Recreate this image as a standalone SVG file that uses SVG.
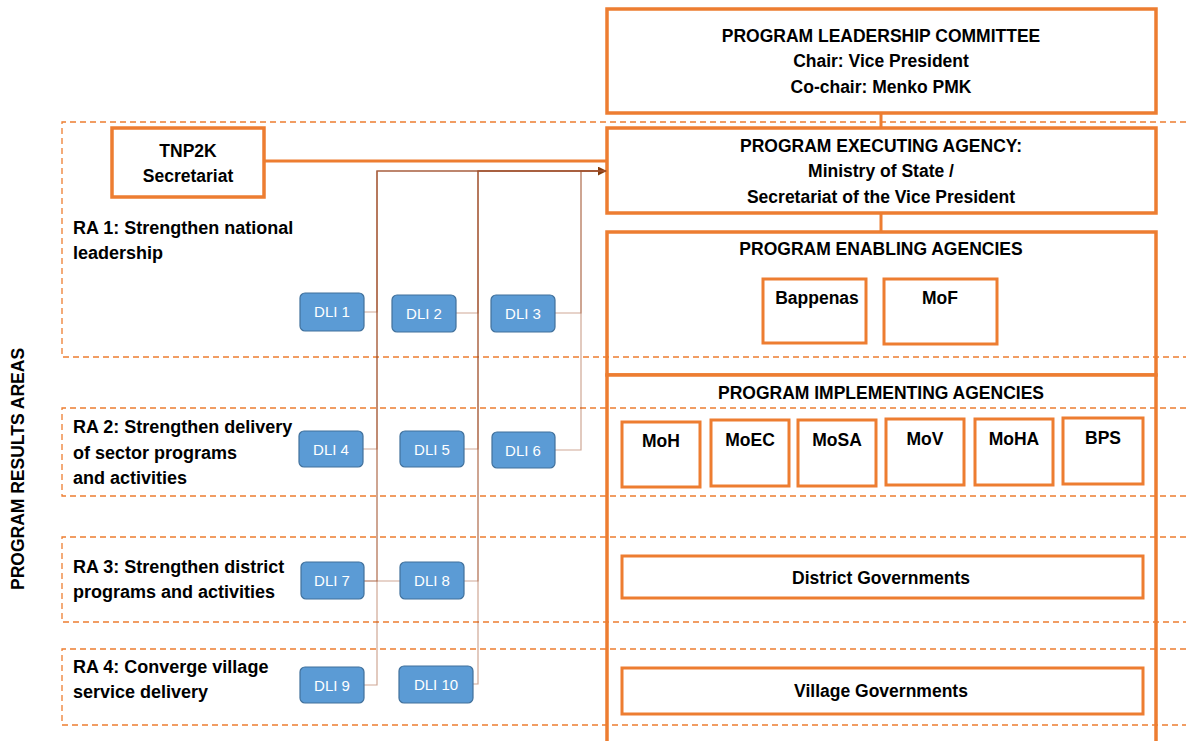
<svg xmlns="http://www.w3.org/2000/svg" width="1186" height="741" viewBox="0 0 1186 741">
<defs>
<marker id="arr" viewBox="0 0 10 10" refX="9" refY="5" markerWidth="9" markerHeight="9" markerUnits="userSpaceOnUse" orient="auto"><path d="M0,0 L10,5 L0,10 z" fill="#843C0C"/></marker>
</defs>
<style>
.ob{fill:#fff;stroke:#ED7D31;stroke-width:3.5}
.ob2{fill:#fff;stroke:#ED7D31;stroke-width:3}
.t{font-family:"Liberation Sans",Arial,sans-serif;font-weight:bold;font-size:17.5px;fill:#000}
.c{text-anchor:middle}
.ra{font-family:"Liberation Sans",Arial,sans-serif;font-weight:bold;font-size:18px;fill:#000}
.dash{fill:none;stroke:#ED7D31;stroke-width:1.3;stroke-dasharray:6 4}
.dli{fill:#5B9BD5;stroke:#41719C;stroke-width:1.2}
.dt{font-family:"Liberation Sans",Arial,sans-serif;font-size:15px;fill:#fff;text-anchor:middle}
.cn{fill:none;stroke:#A0522D;stroke-width:1.2;stroke-opacity:0.5}
</style>
<rect width="1186" height="741" fill="#fff"/>

<g id="leadership"><rect class="ob" x="607" y="9" width="549" height="104"/>
<text class="t c" x="881" y="42">PROGRAM LEADERSHIP COMMITTEE</text>
<text class="t c" x="881" y="67">Chair: Vice President</text>
<text class="t c" x="881" y="93">Co-chair: Menko PMK</text></g>

<g id="executing"><rect class="ob" x="607" y="128" width="549" height="85"/>
<text class="t c" x="881" y="152">PROGRAM EXECUTING AGENCY:</text>
<text class="t c" x="881" y="177">Ministry of State /</text>
<text class="t c" x="881" y="203">Secretariat of the Vice President</text></g>

<g id="enabling"><rect class="ob" x="607" y="232" width="549" height="143"/>
<text class="t c" x="881" y="255">PROGRAM ENABLING AGENCIES</text></g>
<g id="bappenas"><rect class="ob2" x="763" y="279" width="103" height="64"/><text class="t c" x="817" y="304">Bappenas</text></g>
<g id="mof"><rect class="ob2" x="884" y="279" width="113" height="65"/><text class="t c" x="940" y="304">MoF</text></g>

<g id="implementing"><rect class="ob" x="607" y="375" width="549" height="380"/>
<text class="t c" x="881" y="399">PROGRAM IMPLEMENTING AGENCIES</text></g>
<g id="moh"><rect class="ob2" x="622" y="422" width="78" height="65"/><text class="t c" x="661" y="447">MoH</text></g>
<g id="moec"><rect class="ob2" x="711" y="420" width="78" height="66"/><text class="t c" x="750" y="446">MoEC</text></g>
<g id="mosa"><rect class="ob2" x="798" y="420" width="78" height="66"/><text class="t c" x="837" y="446">MoSA</text></g>
<g id="mov"><rect class="ob2" x="886" y="419" width="78" height="66"/><text class="t c" x="925" y="445">MoV</text></g>
<g id="moha"><rect class="ob2" x="975" y="419" width="78" height="66"/><text class="t c" x="1014" y="445">MoHA</text></g>
<g id="bps"><rect class="ob2" x="1063" y="418" width="80" height="66"/><text class="t c" x="1103" y="444">BPS</text></g>
<g id="district"><rect class="ob2" x="622" y="556" width="521" height="42"/><text class="t c" x="881" y="584">District Governments</text></g>
<g id="village"><rect class="ob2" x="622" y="668" width="521" height="46"/><text class="t c" x="881" y="697">Village Governments</text></g>

<g id="tnp2k"><rect class="ob" x="112" y="128" width="152" height="69"/>
<text class="t c" x="188" y="157">TNP2K</text>
<text class="t c" x="188" y="182">Secretariat</text></g>

<g id="ra-areas">
<path class="dash" d="M1186,122 H62 V357 H1186"/>
<path class="dash" d="M1186,408 H62 V496 H1186"/>
<path class="dash" d="M1186,537 H62 V622 H1186"/>
<path class="dash" d="M1186,649 H62 V725 H1186"/>
<text class="t" transform="translate(24,469) rotate(-90)" text-anchor="middle" font-size="16">PROGRAM RESULTS AREAS</text>
<text class="ra" x="73" y="234">RA 1: Strengthen national</text>
<text class="ra" x="73" y="259">leadership</text>
<text class="ra" x="73" y="433">RA 2: Strengthen delivery</text>
<text class="ra" x="73" y="459">of sector programs</text>
<text class="ra" x="73" y="484">and activities</text>
<text class="ra" x="73" y="573">RA 3: Strengthen district</text>
<text class="ra" x="73" y="598">programs and activities</text>
<text class="ra" x="73" y="673">RA 4: Converge village</text>
<text class="ra" x="73" y="698">service delivery</text>
</g>

<g id="connectors">
<line x1="264" y1="161" x2="607" y2="161" stroke="#ED7D31" stroke-width="3"/>
<line x1="881" y1="113" x2="881" y2="128" stroke="#ED7D31" stroke-width="3"/>
<line x1="881" y1="213" x2="881" y2="232" stroke="#ED7D31" stroke-width="3"/>
<path class="cn" d="M364,312 H377 V171 H606" marker-end="url(#arr)"/>
<path class="cn" d="M363,449 H377 V171 H606"/>
<path class="cn" d="M364,581 H377 V171 H606"/>
<path class="cn" d="M364,581 H400"/>
<path class="cn" d="M364,685 H377 V171 H606"/>
<path class="cn" d="M456,313 H478 V171 H606"/>
<path class="cn" d="M464,449 H478 V171 H606"/>
<path class="cn" d="M464,581 H478 V171 H606"/>
<path class="cn" d="M473,684 H478 V171 H606"/>
<path class="cn" d="M555,313 H581 V171 H606"/>
<path class="cn" d="M555,450 H581 V171 H606"/>
</g>

<g id="dli1"><rect class="dli" x="300" y="293" width="64" height="38" rx="5"/><text class="dt" x="332" y="317">DLI 1</text></g>
<g id="dli2"><rect class="dli" x="392" y="295" width="64" height="37" rx="5"/><text class="dt" x="424" y="319">DLI 2</text></g>
<g id="dli3"><rect class="dli" x="491" y="295" width="64" height="37" rx="5"/><text class="dt" x="523" y="319">DLI 3</text></g>
<g id="dli4"><rect class="dli" x="299" y="431" width="64" height="36" rx="5"/><text class="dt" x="331" y="455">DLI 4</text></g>
<g id="dli5"><rect class="dli" x="400" y="431" width="64" height="36" rx="5"/><text class="dt" x="432" y="455">DLI 5</text></g>
<g id="dli6"><rect class="dli" x="492" y="432" width="63" height="36" rx="5"/><text class="dt" x="523" y="456">DLI 6</text></g>
<g id="dli7"><rect class="dli" x="301" y="562" width="63" height="37" rx="5"/><text class="dt" x="332" y="586">DLI 7</text></g>
<g id="dli8"><rect class="dli" x="400" y="562" width="64" height="37" rx="5"/><text class="dt" x="432" y="586">DLI 8</text></g>
<g id="dli9"><rect class="dli" x="300" y="667" width="64" height="36" rx="5"/><text class="dt" x="332" y="691">DLI 9</text></g>
<g id="dli10"><rect class="dli" x="399" y="666" width="74" height="37" rx="5"/><text class="dt" x="436" y="690">DLI 10</text></g>
</svg>
